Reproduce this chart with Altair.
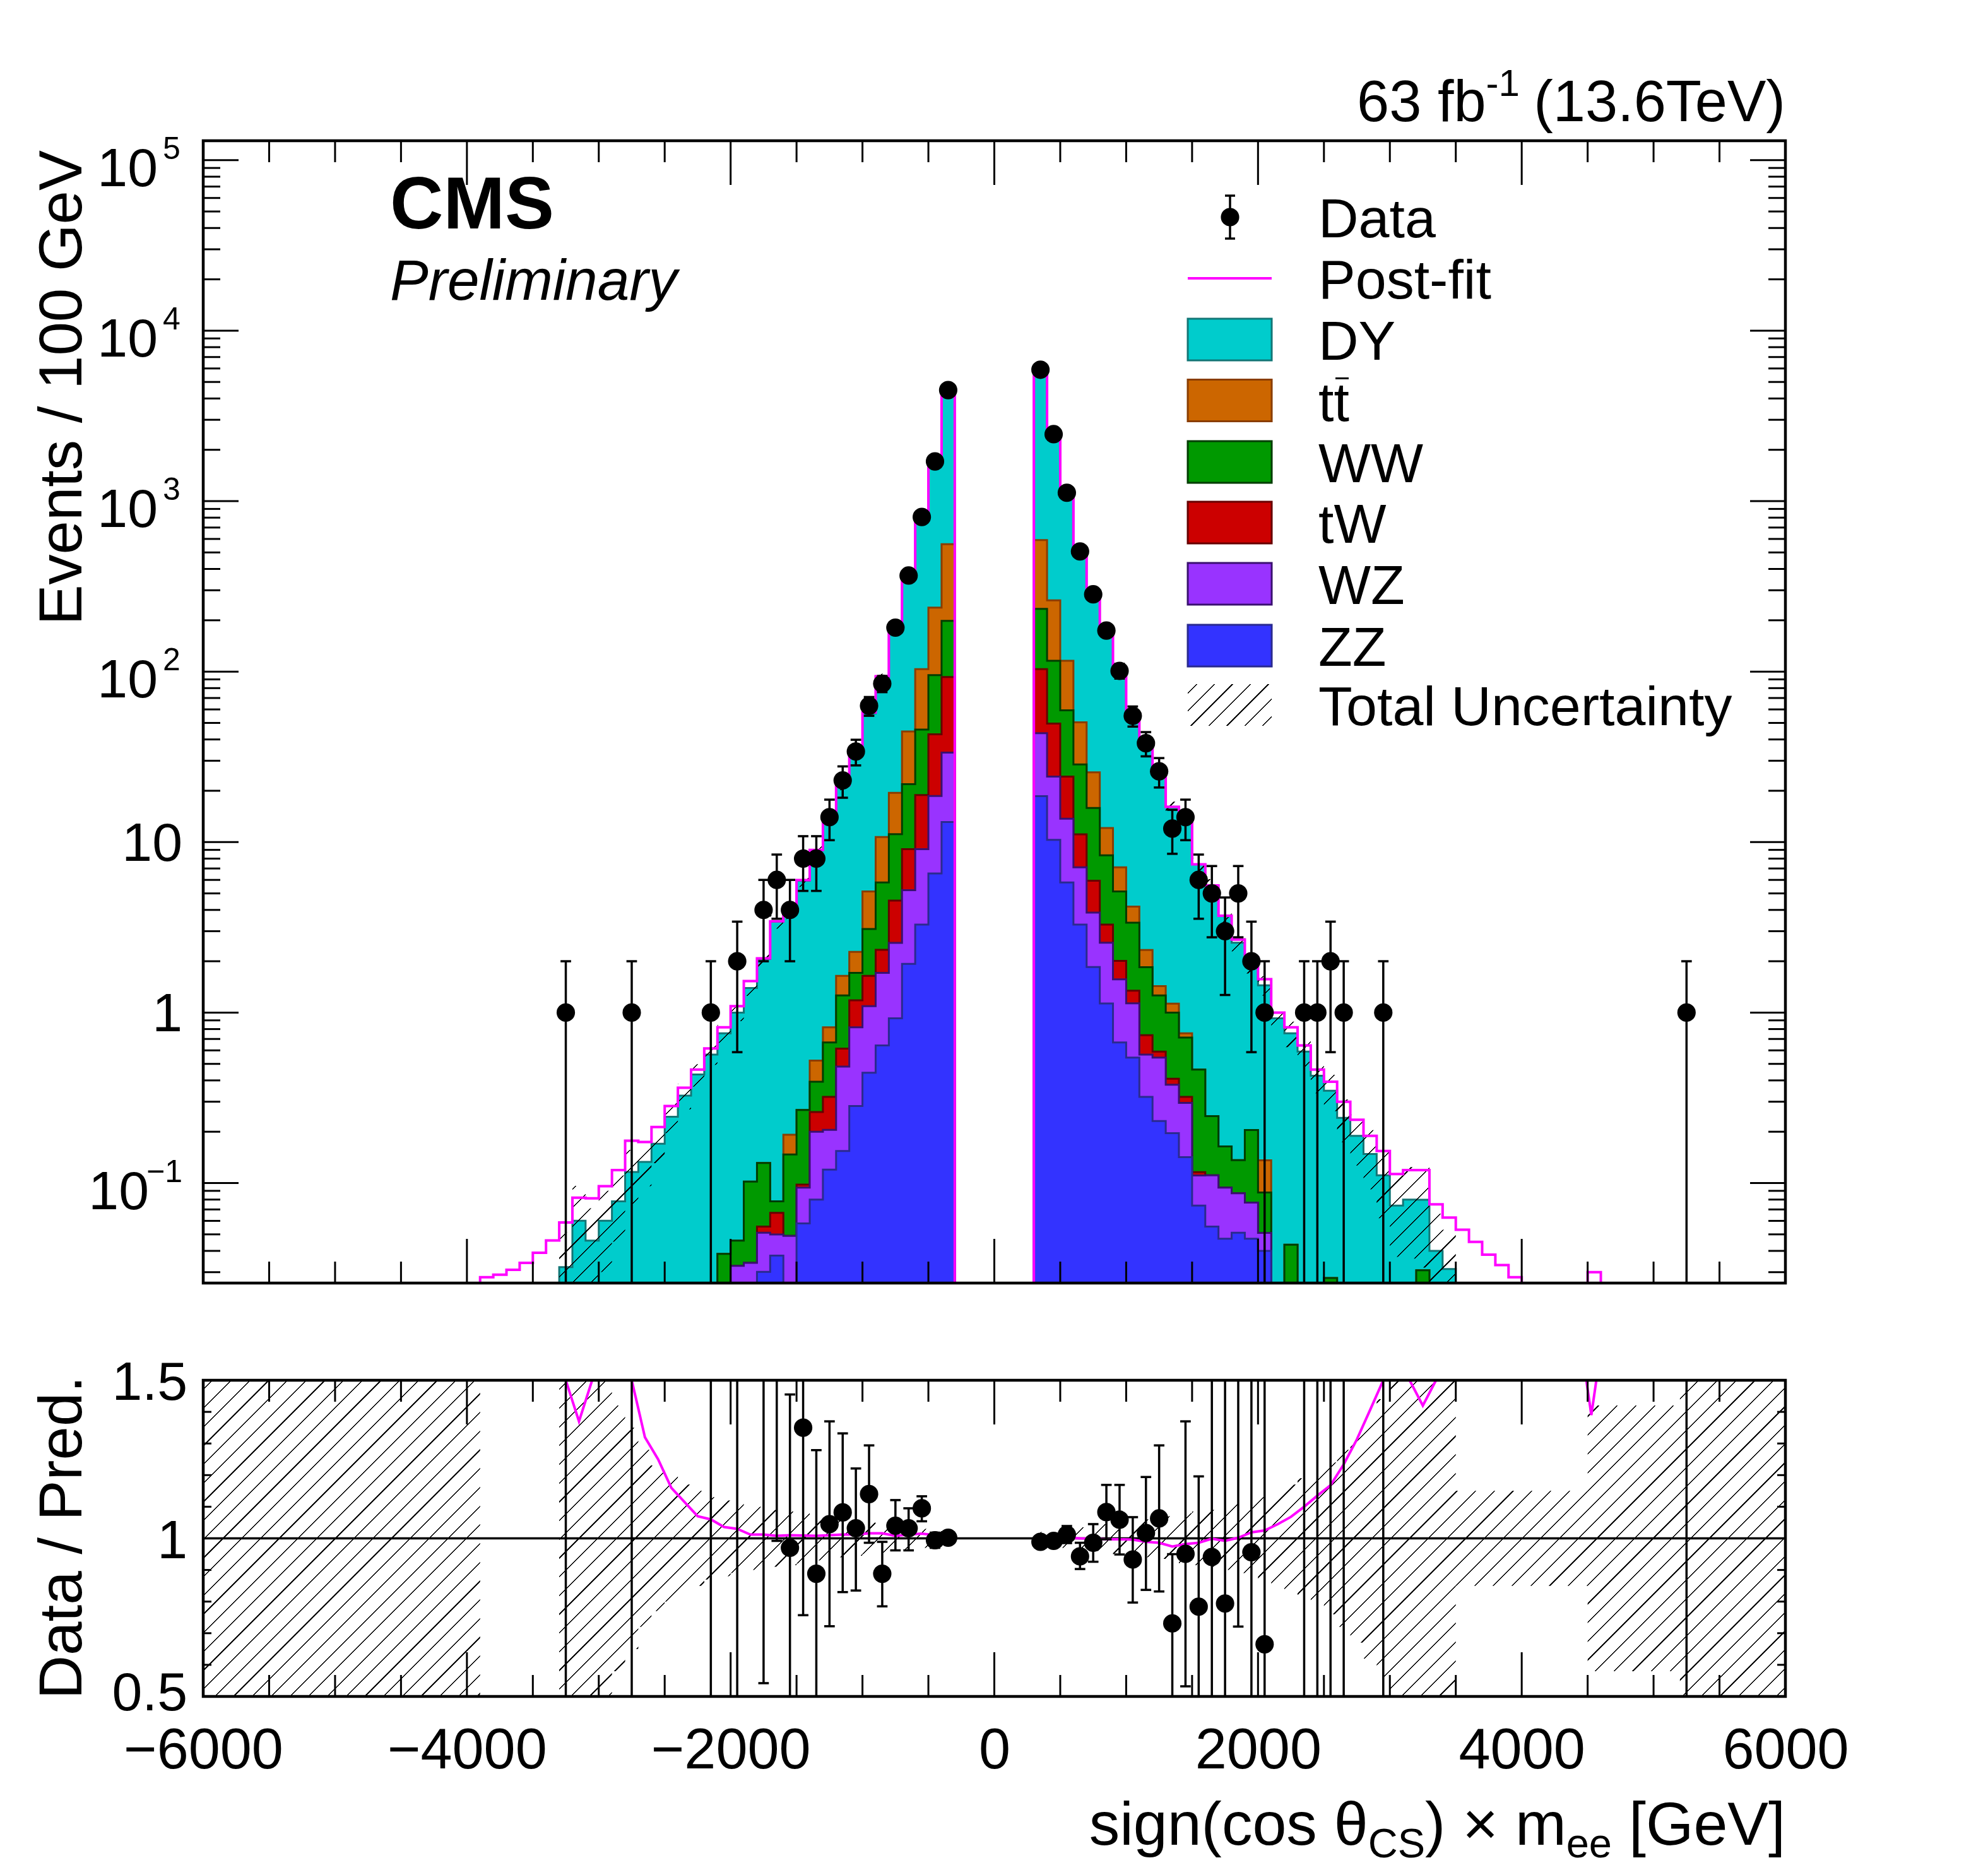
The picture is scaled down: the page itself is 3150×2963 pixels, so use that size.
import math
import pandas as pd
import altair as alt

# ---------------------------------------------------------------- data
# stacked predictions (events / 100 GeV), negative side, bin centres -3250 ... -350 GeV
left_centres = list(range(-3250, -349, 100))
dy_left = [0.0321, 0.0601, 0.0459, 0.0601, 0.0781, 0.116, 0.133, 0.170, 0.245, 0.326,
           0.433, 0.567, 0.717, 0.954, 1.29, 1.93, 3.33, 3.67, 5.67, 8.42,
           12.9, 19.8, 30.7, 51.8, 82.3, 159, 318, 684, 1487, 3847]
tt_left = [0, 0, 0, 0, 0, 0, 0, 0, 0, 0,
           0, 0, 0, 0, 0, 0, 0, 0.045, 0, 0.13,
           0.151, 0.38, 0.56, 2.04, 4.9, 8.3, 22.7, 57.6, 142, 361]
ww_left = [0, 0, 0, 0, 0, 0, 0, 0, 0, 0,
           0, 0, 0.0384, 0.0132, 0.068, 0.0755, 0.0112, 0.098, 0.17, 0.132,
           0.348, 0.645, 0.53, 1.45, 3.47, 6.6, 12.8, 26.8, 52.4, 105.6]
tw_left = [0, 0, 0, 0, 0, 0, 0, 0, 0, 0,
           0, 0, 0, 0, 0, 0.0044, 0.017, 0, 0.004, 0.061,
           0.115, 0.133, 0.36, 0.55, 0.62, 1.97, 3.86, 9.8, 24.2, 59.4]
wz_left = [0, 0, 0, 0, 0, 0, 0, 0, 0, 0,
           0, 0, 0, 0.0327, 0.034, 0.021, 0.0124, 0.049, 0.036, 0.12,
           0.085, 0.328, 0.536, 0.646, 1.07, 1.64, 3.29, 5.8, 12.1, 20.4]
zz_left = [0, 0, 0, 0, 0, 0, 0, 0, 0, 0,
           0, 0, 0, 0, 0, 0.0301, 0.0375, 0, 0.058, 0.080,
           0.120, 0.154, 0.283, 0.444, 0.641, 0.925, 1.93, 3.28, 6.55, 13.1]

# positive side, bin centres 350 ... 3450 GeV
right_centres = list(range(350, 3451, 100))
dy_right = [5365, 2207, 1003, 465, 258, 162, 93.7, 50.5, 34.1, 23.8,
            15.0, 13.5, 6.95, 5.32, 3.54, 2.43, 1.72, 1.31, 0.925, 0.712,
            0.590, 0.426, 0.320, 0.241, 0.189, 0.148, 0.111, 0.0738, 0.080, 0.049,
            0.040, 0.0313]
tt_right = [358, 146, 56.5, 21.9, 9.8, 3.73, 1.98, 0.82, 0.48, 0.17,
            0.13, 0.042, 0, 0, 0, 0, 0, 0.048, 0, 0,
            0, 0, 0, 0, 0, 0, 0, 0, 0, 0,
            0, 0]
ww_right = [130, 66.2, 35.1, 17.4, 9.9, 5.09, 3.12, 2.02, 1.11, 0.67,
            0.59, 0.393, 0.347, 0.136, 0.07, 0.049, 0.128, 0.037, 0, 0.0435,
            0, 0, 0.0277, 0, 0, 0, 0, 0, 0, 0.0308,
            0, 0]
tw_right = [59.8, 25.4, 10.5, 4.0, 2.08, 0.71, 0.44, 0.21, 0.17, 0.046,
            0.032, 0.025, 0.005, 0, 0, 0, 0, 0, 0, 0,
            0, 0, 0, 0, 0, 0, 0, 0, 0, 0,
            0, 0]
wz_right = [24.9, 13.9, 7.9, 3.83, 2.01, 1.44, 0.90, 0.59, 0.247, 0.313,
            0.181, 0.153, 0.037, 0.0555, 0.047, 0.036, 0.0297, 0.011, 0, 0,
            0, 0, 0, 0, 0, 0, 0, 0, 0, 0,
            0, 0]
zz_right = [18.6, 10.3, 5.8, 3.28, 1.85, 1.13, 0.668, 0.544, 0.32, 0.231,
            0.196, 0.142, 0.0738, 0.0555, 0.0471, 0.0511, 0.0471, 0.040, 0, 0,
            0, 0, 0, 0, 0, 0, 0, 0, 0, 0,
            0, 0]

# post-fit total
postfit_left_centres = list(range(-3850, -349, 100))
postfit_left = [0.028, 0.029, 0.031, 0.034, 0.039, 0.046, 0.0587, 0.082, 0.0813, 0.0958,
                0.119, 0.177, 0.174, 0.213, 0.283, 0.362, 0.463, 0.616, 0.819, 1.09,
                1.53, 2.08, 3.43, 3.89, 5.99, 9.0, 13.8, 21.6, 33.4, 57.6,
                94, 178, 366, 793, 1731, 4420]
postfit_right_centres = list(range(350, 4551, 100))
postfit_right = [5957, 2469, 1119, 515, 284, 174, 101, 54.7, 36.4, 25.2,
                 16.1, 14.6, 7.41, 5.57, 3.70, 2.68, 2.10, 1.57, 1.0, 0.819,
                 0.641, 0.463, 0.393, 0.300, 0.235, 0.189, 0.154, 0.113, 0.119, 0.119,
                 0.075, 0.0627, 0.0532, 0.0452, 0.038, 0.033, 0.028, 0, 0, 0,
                 0, 0, 0.030]

# observed data and data / prediction
data_x = [-3250, -2750, -2150, -1950, -1750, -1650, -1550, -1450, -1350, -1250,
          -1150, -1050, -950, -850, -750, -650, -550, -450, -350,
          350, 450, 550, 650, 750, 850, 950, 1050, 1150, 1250,
          1350, 1450, 1550, 1650, 1750, 1850, 1950, 2050, 2350, 2450,
          2550, 2650, 2950, 5250]
data_n = [1, 1, 1, 2, 4, 6, 4, 8, 8, 14,
          23, 34, 63, 85, 181, 366, 807, 1710, 4480,
          5900, 2470, 1120, 507, 284, 174, 101, 55, 38, 26,
          12, 14, 6, 5, 3, 5, 2, 1, 1, 1,
          2, 1, 1, 1]
ratio_val = [30, 8.6, 1.76, 2.0, 1.94, 1.76, 0.97, 1.35, 0.888, 1.045,
             1.082, 1.032, 1.14, 0.888, 1.04, 1.032, 1.095, 0.994, 1.002,
             0.989, 0.992, 1.012, 0.943, 0.986, 1.083, 1.059, 0.933, 1.017, 1.063,
             0.731, 0.951, 0.784, 0.941, 0.794, 1.9, 0.956, 0.665, 1.7, 2.3,
             5.7, 4.1, 9.0, 50]
ratio_lo = [0, 0, 0, 0, 0.542, 0.992, 0.485, 0.757, 0.497, 0.722,
            0.830, 0.835, 0.986, 0.785, 0.962, 0.962, 1.054, 0.970, 0.988,
            0.979, 0.977, 0.985, 0.903, 0.926, 0.997, 0.949, 0.797, 0.837, 0.832,
            0.45, 0.532, 0.30, 0.30, 0.10, 0.721, 0.20, 0, 0, 0,
            0, 0, 0, 0]
ratio_hi = [60, 17, 3.5, 4.0, 3.3, 2.6, 1.455, 1.94, 1.279, 1.370,
            1.332, 1.221, 1.294, 0.989, 1.121, 1.095, 1.133, 1.018, 1.016,
            0.999, 1.007, 1.039, 0.986, 1.045, 1.169, 1.169, 1.067, 1.194, 1.294,
            0.95, 1.370, 1.196, 1.6, 1.6, 3.0, 1.8, 1.6, 3.4, 4.6,
            10, 8, 18, 100]

# post-fit / pre-fit curve in the ratio pad
fitratio_left = [2.0, 1.37, 1.5, 1.65, 1.6, 1.5, 1.32, 1.25, 1.16, 1.115,
                 1.07, 1.06, 1.036, 1.03, 1.012, 1.012, 1.008, 1.01, 1.009, 1.008,
                 1.01, 1.012, 1.012, 1.016, 1.016, 1.008, 1.012, 1.015, 1.01, 1.002]
fitratio_right = [0.989, 0.997, 1.002, 1.0, 0.999, 0.997, 0.997, 0.996, 0.989, 0.986,
                  0.974, 0.982, 0.986, 0.999, 0.992, 1.002, 1.019, 1.025, 1.045, 1.068,
                  1.10, 1.135, 1.168, 1.234, 1.313, 1.406, 1.5, 1.7, 1.6, 1.42,
                  1.7, 2.0]
fitratio_spike_x = [4490, 4528, 4566]
fitratio_spike = [3.0, 1.39, 3.0]

# relative total uncertainty per bin
unc_left_centres = list(range(-5950, -349, 100))
unc_left = [1, 1, 1, 1, 1, 1, 1, 1, 1, 1,
            1, 1, 1, 1, 1, 1, 1, 1, 1, 1,
            1, 0, 0, 0, 0, 0, 0, 0.6, 0.6, 0.55,
            0.5, 0.42, 0.35, 0.28, 0.23, 0.2, 0.17, 0.15, 0.13, 0.12,
            0.11, 0.1, 0.1, 0.09, 0.085, 0.08, 0.07, 0.065, 0.06, 0.055,
            0.05, 0.045, 0.04, 0.035, 0.03, 0.025, 0.02]
unc_right_centres = list(range(350, 5951, 100))
unc_right = [0.02, 0.025, 0.03, 0.035, 0.04, 0.045, 0.05, 0.055, 0.06, 0.065,
             0.07, 0.08, 0.085, 0.09, 0.1, 0.11, 0.12, 0.13, 0.15, 0.17,
             0.19, 0.21, 0.24, 0.28, 0.33, 0.38, 0.44, 0.5, 0.55, 0.6,
             0.65, 0.7, 0.15, 0.15, 0.15, 0.15, 0.15, 0.15, 0.15, 0.15,
             0.15, 0.15, 0.42, 0.42, 0.42, 0.42, 0.42, 0.42, 0.42, 1,
             1, 1, 1, 1, 1, 1, 1]

x_major = [-4000, -2000, 0, 2000, 4000]
x_minor = [-5500, -5000, -4500, -3500, -3000, -2500, -1500, -1000, -500,
           500, 1000, 1500, 2500, 3000, 3500, 4500, 5000, 5500]
y_major = [0.1, 1, 10, 100, 1e3, 1e4, 1e5]
r_minor = [0.6, 0.7, 0.8, 0.9, 1.1, 1.2, 1.3, 1.4]
r_major = [0.5, 1.0, 1.5]

# ---------------------------------------------------------------- layout
FONT = "Liberation Sans"
W, H_UP, R_TOP, R_BOT = 2507, 1810, 1964, 2465
FLOOR = 1e-4
YMIN, YMAX = 0.0259, 1.3e5
ONE = pd.DataFrame({"a": [0]})
MARKER = 850

XS = alt.Scale(domain=[-6000, 6000], nice=False, zero=False)
YS_UP = alt.Scale(type="log", domain=[YMIN, YMAX], range=[H_UP, 0], clamp=True, nice=False)
YS_R = alt.Scale(domain=[0.5, 1.5], range=[R_BOT, R_TOP], clamp=True, nice=False, zero=False)
XAX = alt.Axis(values=[-6000, -4000, -2000, 0, 2000, 4000, 6000], format="d", labelFontSize=90,
               labelFont=FONT, labelColor="black", labelPadding=42, labelFlush=False, labelLimit=0,
               labelOverlap=False, ticks=False, tickSize=0, domain=False, grid=False, title=None)


def X(f):
    return alt.X(f"{f}:Q", scale=XS, axis=XAX)


def px_x(g):
    return (g + 6000) / 12000 * W


def px_up(v):
    v = min(max(v, YMIN), YMAX)
    return (math.log10(YMAX) - math.log10(v)) / (math.log10(YMAX) - math.log10(YMIN)) * H_UP


def hatch(w, h, spacing=21.0, lw=1.6):
    # 45 degree "/" hatching as a hard-stop linear gradient over the mark's bounding box
    r = h / w
    k = (1 + r) / (1 + r * r)
    L = w * (1 + r) / math.sqrt(2)
    n = max(1, int(round(L / spacing)))
    p, f = 1.0 / n, lw / L
    clear = "rgba(0,0,0,0)"
    stops = [{"offset": 0, "color": clear}]
    for i in range(n):
        s = round(i * p + (p - f) / 2, 6)
        e = round(s + f, 6)
        stops += [{"offset": s, "color": clear}, {"offset": s, "color": "#000000"},
                  {"offset": e, "color": "#000000"}, {"offset": e, "color": clear}]
    stops.append({"offset": 1, "color": clear})
    return {"gradient": "linear", "x1": 0, "y1": 0, "x2": k, "y2": k * r, "stops": stops}


HW = {" ": .278, "(": .333, ")": .333, "[": .278, "]": .278, ".": .278, "-": .333, "×": .584,
      "a": .556, "b": .556, "c": .5, "e": .556, "f": .278, "g": .556, "i": .222, "m": .833,
      "n": .556, "o": .556, "s": .5, "C": .722, "G": .778, "S": .667, "T": .611, "V": .667, "θ": .556}


def tw(s, size):
    return sum(HW.get(c, .556) for c in s) * size


def label(txt, x, y, size, **kw):
    return alt.Chart(ONE).mark_text(text=txt, font=FONT, fontSize=size, color="black", **kw).encode(
        x=alt.value(x), y=alt.value(y))


def seg(x0, x1, y0, y1, color="black", width=3):
    return alt.Chart(ONE).mark_rule(color=color, strokeWidth=width).encode(
        x=alt.value(x0), x2=alt.value(x1), y=alt.value(y0), y2=alt.value(y1))


def box(x0, x1, y0, y1, **kw):
    return alt.Chart(ONE).mark_rect(**kw).encode(
        x=alt.value(x0), x2=alt.value(x1), y=alt.value(y0), y2=alt.value(y1))


def yrules(vals, scale, x0, x1):
    return alt.Chart(pd.DataFrame({"v": vals})).mark_rule(color="black", strokeWidth=3).encode(
        y=alt.Y("v:Q", scale=scale, axis=None), x=alt.value(x0), x2=alt.value(x1))


PROCS = ["ZZ", "WZ", "tW", "WW", "tt", "DY"]
FILL = {"DY": "#00CCCC", "tt": "#CC6600", "WW": "#009900", "tW": "#CC0000", "WZ": "#9933FF", "ZZ": "#3333FF"}
EDGE = {"DY": "#127676", "tt": "#8A3D00", "WW": "#003D00", "tW": "#660000", "WZ": "#3A1070", "ZZ": "#2A2A90"}
left = {"DY": dy_left, "tt": tt_left, "WW": ww_left, "tW": tw_left, "WZ": wz_left, "ZZ": zz_left}
right = {"DY": dy_right, "tt": tt_right, "WW": ww_right, "tW": tw_right, "WZ": wz_right, "ZZ": zz_right}
unc = dict(zip(unc_left_centres, unc_left))
unc.update(zip(unc_right_centres, unc_right))


def close(rows, last_edge):
    end = dict(rows[-1])
    end["edge"] = last_edge
    return rows + [end]


def stack_frame(centres, comps):
    rows = []
    for i, c in enumerate(centres):
        row, cum = {"edge": c - 50}, 0.0
        for p in PROCS:
            cum += comps[p][i]
            row[p] = max(cum, FLOOR)
        rows.append(row)
    return pd.DataFrame(close(rows, centres[-1] + 50))


def band_rows(centres, comps):
    rows = []
    for i, c in enumerate(centres):
        tot = sum(comps[p][i] for p in PROCS)
        rows.append({"edge": c - 50, "hi": tot * (1 + unc[c]), "lo": max(tot * (1 - unc[c]), FLOOR)})
    return pd.DataFrame(close(rows, centres[-1] + 50))


stacks = [stack_frame(left_centres, left), stack_frame(right_centres, right)]

layers = []
# stacked histograms, drawn from the full stack down to ZZ (one path per side)
for p in ["DY", "tt", "WW", "tW", "WZ", "ZZ"]:
    for st in stacks:
        layers.append(alt.Chart(st).mark_area(interpolate="step-after", fill=FILL[p], stroke=EDGE[p],
                                              strokeWidth=3).encode(
            x=X("edge"), y=alt.Y(f"{p}:Q", scale=YS_UP, axis=None), y2=alt.value(H_UP)))

# total uncertainty on the stack
for centres, comps in [(left_centres, left), (right_centres, right)]:
    b = band_rows(centres, comps)
    bw = px_x(b["edge"].max()) - px_x(b["edge"].min())
    bh = px_up(b["lo"].min()) - px_up(b["hi"].max())
    layers.append(alt.Chart(b).mark_area(interpolate="step-after", fill=hatch(bw, bh)).encode(
        x=X("edge"), y=alt.Y("hi:Q", scale=YS_UP, axis=None), y2="lo:Q"))

# post-fit line
pf = dict(zip(postfit_left_centres, postfit_left))
pf.update(zip(postfit_right_centres, postfit_right))
pf_edges = list(range(-6000, 6000, 100))
pf_vals = [max(pf.get(e + 50, 0.0), FLOOR) for e in pf_edges]
pf_df = pd.DataFrame({"edge": pf_edges + [6000], "v": pf_vals + [pf_vals[-1]]})
layers.append(alt.Chart(pf_df).mark_line(interpolate="step-after", color="#FF00FF", strokeWidth=4).encode(
    x=X("edge"), y=alt.Y("v:Q", scale=YS_UP, axis=None)))

# ratio pad uncertainty band
for cs, vals in [(unc_left_centres, unc_left), (unc_right_centres, unc_right)]:
    rows = [{"edge": c - 50, "hi": 1 + s, "lo": 1 - s} for c, s in zip(cs, vals)]
    rb = pd.DataFrame(close(rows, cs[-1] + 50))
    layers.append(alt.Chart(rb).mark_area(interpolate="step-after",
                                          fill=hatch(px_x(cs[-1] + 50) - px_x(cs[0] - 50), R_BOT - R_TOP)).encode(
        x=X("edge"), y=alt.Y("hi:Q", scale=YS_R, axis=None), y2="lo:Q"))

layers.append(alt.Chart(pd.DataFrame({"v": [1.0]})).mark_rule(color="black", strokeWidth=3.5).encode(
    y=alt.Y("v:Q", scale=YS_R, axis=None), x=alt.value(0), x2=alt.value(W)))

for xs_, rs_ in [(left_centres, fitratio_left), (right_centres, fitratio_right),
                 (fitratio_spike_x, fitratio_spike)]:
    layers.append(alt.Chart(pd.DataFrame({"x": xs_, "r": rs_})).mark_line(color="#FF00FF", strokeWidth=4).encode(
        x=X("x"), y=alt.Y("r:Q", scale=YS_R, axis=None)))

# data
dat = pd.DataFrame({"x": data_x, "n": data_n, "r": ratio_val, "rlo": ratio_lo, "rhi": ratio_hi})
dat["ehi"] = dat["n"] + dat["n"] ** 0.5
dat["elo"] = (dat["n"] - dat["n"] ** 0.5).clip(lower=FLOOR)
caps_up, caps_r = [], []
for _, d in dat.iterrows():
    caps_up.append({"x0": d.x - 40, "x1": d.x + 40, "v": d.ehi})
    if d.n - d.n ** 0.5 > YMIN:
        caps_up.append({"x0": d.x - 40, "x1": d.x + 40, "v": d.n - d.n ** 0.5})
    for v in (d.rlo, d.rhi):
        if 0.5 < v < 1.5:
            caps_r.append({"x0": d.x - 40, "x1": d.x + 40, "v": v})

layers.append(alt.Chart(dat).mark_rule(color="black", strokeWidth=3.5).encode(
    x=X("x"), y=alt.Y("elo:Q", scale=YS_UP, axis=None), y2="ehi:Q"))
layers.append(alt.Chart(pd.DataFrame(caps_up)).mark_rule(color="black", strokeWidth=3.5).encode(
    x=X("x0"), x2="x1:Q", y=alt.Y("v:Q", scale=YS_UP, axis=None)))
layers.append(alt.Chart(dat).mark_point(shape="circle", filled=True, size=MARKER, color="black", opacity=1).encode(
    x=X("x"), y=alt.Y("n:Q", scale=YS_UP, axis=None)))

layers.append(alt.Chart(dat).mark_rule(color="black", strokeWidth=3.5).encode(
    x=X("x"), y=alt.Y("rlo:Q", scale=YS_R, axis=None), y2="rhi:Q"))
layers.append(alt.Chart(pd.DataFrame(caps_r)).mark_rule(color="black", strokeWidth=3.5).encode(
    x=X("x0"), x2="x1:Q", y=alt.Y("v:Q", scale=YS_R, axis=None)))
layers.append(alt.Chart(dat[(dat.r >= 0.5) & (dat.r <= 1.5)]).mark_point(
    shape="circle", filled=True, size=MARKER, color="black", opacity=1).encode(
    x=X("x"), y=alt.Y("r:Q", scale=YS_R, axis=None)))

# inward ticks
tick_rows = []
for xv, ln in [(v, 70) for v in x_major] + [(v, 34) for v in x_minor]:
    for y0, sg in [(H_UP, -1), (0, 1), (R_BOT, -1), (R_TOP, 1)]:
        tick_rows.append({"x": xv, "y1": y0, "y2": y0 + sg * ln})
layers.append(alt.Chart(pd.DataFrame(tick_rows)).mark_rule(color="black", strokeWidth=3).encode(
    x=X("x"), y=alt.Y("y1:Q", scale=None, axis=None), y2="y2:Q"))
y_minor = [m * 10 ** k for k in range(-2, 5) for m in range(2, 10) if YMIN <= m * 10 ** k <= YMAX]
layers += [yrules(y_major, YS_UP, 0, 56), yrules(y_minor, YS_UP, 0, 27),
           yrules(y_major, YS_UP, W - 56, W), yrules(y_minor, YS_UP, W - 27, W),
           yrules(r_major, YS_R, 0, 26), yrules(r_minor, YS_R, 0, 13),
           yrules(r_major, YS_R, W - 26, W), yrules(r_minor, YS_R, W - 13, W)]

# frames
layers.append(box(0, W, 0, H_UP, fillOpacity=0, stroke="black", strokeWidth=4.5))
layers.append(box(0, W, R_TOP, R_BOT, fillOpacity=0, stroke="black", strokeWidth=4.5))

# y labels of the main pad
layers.append(alt.Chart(pd.DataFrame({"v": [1, 10], "t": ["1", "10"]})).mark_text(
    font=FONT, fontSize=86, align="right", baseline="alphabetic", dy=30, color="black").encode(
    y=alt.Y("v:Q", scale=YS_UP, axis=None), x=alt.value(-33), text="t:N"))
pw = pd.DataFrame({"v": [100, 1e3, 1e4, 1e5], "e": ["2", "3", "4", "5"]})
layers.append(alt.Chart(pw).mark_text(text="10", font=FONT, fontSize=86, align="right", baseline="alphabetic",
                                      dy=41, color="black").encode(
    y=alt.Y("v:Q", scale=YS_UP, axis=None), x=alt.value(-72)))
layers.append(alt.Chart(pw).mark_text(font=FONT, fontSize=50, align="left", baseline="alphabetic",
                                      dy=-2, color="black").encode(
    y=alt.Y("v:Q", scale=YS_UP, axis=None), x=alt.value(-64), text="e:N"))
neg = pd.DataFrame({"v": [0.1]})
layers.append(alt.Chart(neg).mark_text(text="10", font=FONT, fontSize=86, align="right", baseline="alphabetic",
                                       dy=41, color="black").encode(
    y=alt.Y("v:Q", scale=YS_UP, axis=None), x=alt.value(-86)))
layers.append(alt.Chart(neg).mark_text(text="\u22121", font=FONT, fontSize=50, align="right",
                                       baseline="alphabetic", dy=-2, color="black").encode(
    y=alt.Y("v:Q", scale=YS_UP, axis=None), x=alt.value(-33)))

# y labels of the ratio pad
layers.append(alt.Chart(pd.DataFrame({"v": [1.0, 1.5], "t": ["1", "1.5"]})).mark_text(
    font=FONT, fontSize=86, align="right", baseline="alphabetic", dy=31, color="black").encode(
    y=alt.Y("v:Q", scale=YS_R, axis=None), x=alt.value(-25), text="t:N"))
layers.append(alt.Chart(pd.DataFrame({"v": [0.5], "t": ["0.5"]})).mark_text(
    font=FONT, fontSize=86, align="right", baseline="alphabetic", dy=22, color="black").encode(
    y=alt.Y("v:Q", scale=YS_R, axis=None), x=alt.value(-25), text="t:N"))

# axis titles
layers.append(label("Events / 100 GeV", -193, 15, 96, angle=270, align="right", baseline="alphabetic"))
layers.append(label("Data / Pred.", -193, R_TOP - 7, 96, angle=270, align="right", baseline="alphabetic"))
xt = [("sign(cos \u03b8", 97, 0), ("CS", 65, 20), (") \u00d7 m", 97, 0), ("ee", 65, 20), (" [GeV]", 97, 0)]
xr = W
for txt, size, off in reversed(xt):
    layers.append(label(txt, xr, 2700 + off, size, align="right", baseline="alphabetic"))
    xr -= tw(txt, size)

# CMS labels and luminosity
layers.append(label("CMS", 296, 139, 117, align="left", baseline="alphabetic", fontWeight="bold"))
layers.append(label("Preliminary", 296, 252, 91, align="left", baseline="alphabetic", fontStyle="italic"))
lx = W
layers.append(label("(13.6TeV)", lx, -31, 92, align="right", baseline="alphabetic"))
lx -= tw("(13.6TeV)", 92) + 12
layers.append(label("-1", lx, -71, 60, align="right", baseline="alphabetic"))
lx -= tw("-1", 60)
layers.append(label("63 fb", lx, -31, 92, align="right", baseline="alphabetic"))

# legend
LX0, LX1, TX = 1560, 1693, 1767
rows = [121, 218, 315, 411.5, 509, 605, 702, 800, 894]
layers.append(seg(1627, 1627, rows[0] - 34, rows[0] + 34, width=3.5))
layers.append(seg(1619, 1635, rows[0] - 34, rows[0] - 34, width=3.5))
layers.append(seg(1619, 1635, rows[0] + 34, rows[0] + 34, width=3.5))
layers.append(alt.Chart(ONE).mark_point(shape="circle", filled=True, size=MARKER, color="black", opacity=1).encode(
    x=alt.value(1627), y=alt.value(rows[0])))
layers.append(seg(LX0, LX1, rows[1], rows[1], color="#FF00FF", width=4))
for p, yy in zip(["DY", "tt", "WW", "tW", "WZ", "ZZ"], rows[2:8]):
    layers.append(box(LX0, LX1, yy - 33, yy + 33, fill=FILL[p], stroke=EDGE[p], strokeWidth=3))
layers.append(box(LX0, LX1, rows[8] - 33, rows[8] + 33, fill=hatch(LX1 - LX0, 66)))
for txt, yy in zip(["Data", "Post-fit", "DY", "tt", "WW", "tW", "WZ", "ZZ", "Total Uncertainty"], rows):
    layers.append(label(txt, TX, yy + 32, 88, align="left", baseline="alphabetic"))
layers.append(seg(TX + 27, TX + 48, rows[3] - 35, rows[3] - 35, width=3))

# invisible anchor that fixes the page offset of the plot frame
layers.append(seg(-313, -311, -214, -214, color="white", width=0.5))

# note: configure() replaces the whole config, so it must come before configure_view()
chart = alt.layer(*layers).resolve_scale(y="independent").properties(
    width=W, height=R_BOT, padding=0
).configure(font=FONT, background="white").configure_view(stroke="transparent", strokeWidth=0)

chart.save("out.html", embed_options={"renderer": "svg", "actions": False})
